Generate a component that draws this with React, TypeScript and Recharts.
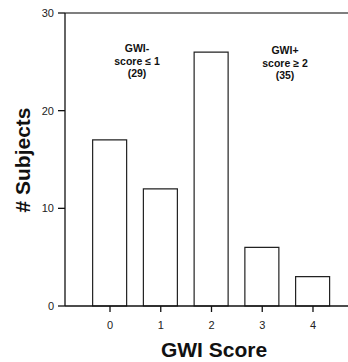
import React from "react";
import { Bar, BarChart, Customized, ReferenceLine, XAxis, YAxis } from "recharts";

// GWI score distribution
const scores: number[] = [0, 1, 2, 3, 4];
const subjects: number[] = [17, 12, 26, 6, 3];
const yTicks: number[] = [0, 10, 20, 30];

const data = scores.map((score, i) => ({ score, subjects: subjects[i] }));

const FONT = "'Liberation Sans', Arial, Helvetica, sans-serif";

const GroupNotes = () => (
  <g fontFamily={FONT} fontSize={10.5} fontWeight="bold" fill="#111" textAnchor="middle">
    <text x={137} y={52}>GWI-</text>
    <text x={137} y={64.5}>score ≤ 1</text>
    <text x={137} y={77}>(29)</text>
    <text x={285} y={54}>GWI+</text>
    <text x={285} y={66.5}>score ≥ 2</text>
    <text x={285} y={79}>(35)</text>
    <text x={22} y={160} fontSize={21} transform="rotate(-90 22 160)" dominantBaseline="central">
      # Subjects
    </text>
    <text x={214} y={357} fontSize={21}>GWI Score</text>
  </g>
);

const App: React.FC = () => {
  return (
    <div style={{ position: "absolute", left: 0, top: 0, width: 348, height: 362, background: "#fff" }}>
      <BarChart
        width={348}
        height={362}
        data={data}
        margin={{ top: 13, right: 0, left: 0, bottom: 0 }}
      >
        <XAxis
          dataKey="score"
          type="number"
          domain={[-0.887, 4.69]}
          ticks={scores}
          allowDataOverflow
          height={56}
          tickSize={6}
          tickMargin={9}
          stroke="#111"
          strokeWidth={1.3}
          tick={{ fill: "#222", fontSize: 11, fontFamily: FONT }}
        />
        <YAxis
          type="number"
          domain={[0, 30]}
          ticks={yTicks}
          width={65}
          tickSize={7}
          tickMargin={4}
          stroke="#111"
          strokeWidth={1.3}
          tick={{ fill: "#222", fontSize: 11, fontFamily: FONT }}
        />
        <ReferenceLine y={30} stroke="#555" strokeWidth={1.3} />
        <Bar
          dataKey="subjects"
          barSize={34}
          fill="#fff"
          stroke="#222"
          strokeWidth={1.2}
          isAnimationActive={false}
        />
        <Customized component={GroupNotes} />
      </BarChart>
    </div>
  );
};

export default App;
